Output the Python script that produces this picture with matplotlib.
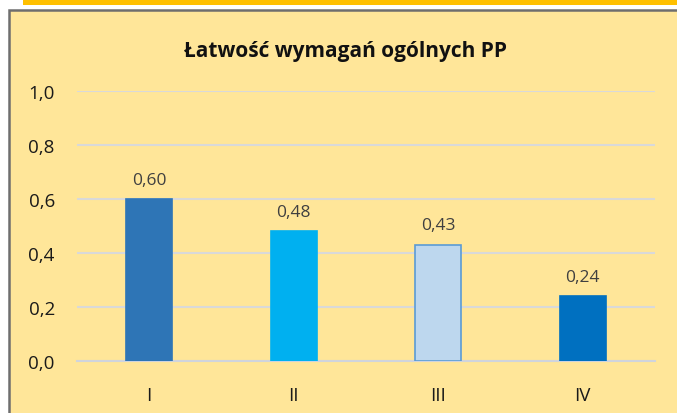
import matplotlib
matplotlib.use('Agg')
import matplotlib.pyplot as plt
from matplotlib.patches import Rectangle

categories = ['I', 'II', 'III', 'IV']
values = [0.60, 0.48, 0.43, 0.24]
value_labels = ['0,60', '0,48', '0,43', '0,24']
ytick_values = [0.0, 0.2, 0.4, 0.6, 0.8, 1.0]
ytick_labels = ['0,0', '0,2', '0,4', '0,6', '0,8', '1,0']
bar_colors = ['#2E75B6', '#00B0F0', '#BDD7EE', '#0070C0']
edge_colors = ['#2E75B6', '#00B0F0', '#5B9BD5', '#0070C0']

plt.rcParams['font.family'] = ['Open Sans', 'DejaVu Sans']

W, H = 677, 414
fig = plt.figure(figsize=(W / 100, H / 100), dpi=100, facecolor='white')

# orange band at the top and the chart box
fig.patches.append(Rectangle((23 / W, 1 - 5.5 / H), 1, 5.5 / H, transform=fig.transFigure,
                             facecolor='#FFC000', edgecolor='none', zorder=-2))
fig.patches.append(Rectangle((9 / W, -0.1), 1, 1 - 11 / H + 0.1, transform=fig.transFigure,
                             facecolor='#FFE699', edgecolor='#6E6E6E', linewidth=1.8, zorder=-2))

ax = fig.add_axes([77 / W, 52 / H, 578 / W, 270 / H])
ax.set_zorder(1)
ax.patch.set_alpha(0)

x = range(len(categories))
ax.bar(x, values, width=0.32, color=bar_colors, edgecolor=edge_colors, linewidth=1.2, zorder=3)
for xi, v, lab in zip(x, values, value_labels):
    ax.annotate(lab, (xi, v), xytext=(0, 14), textcoords='offset points',
                ha='center', va='center', fontsize=12.5, color='#404040')

ax.set_xlim(-0.5, 3.5)
ax.set_ylim(0, 1.0)
ax.set_yticks(ytick_values)
ax.set_yticklabels(ytick_labels, fontsize=13.5, color='#1A1A1A')
ax.set_xticks(list(x))
ax.set_xticklabels(categories, fontsize=13.5, color='#1A1A1A')
ax.tick_params(axis='both', length=0)
ax.tick_params(axis='y', pad=16)
ax.tick_params(axis='x', pad=18)
ax.grid(axis='y', color='#D9D9D9', linewidth=1.5, zorder=0)
for s in ['top', 'right', 'left']:
    ax.spines[s].set_visible(False)
ax.spines['bottom'].set_color('#D0D4DC')
ax.spines['bottom'].set_linewidth(1.5)

fig.text(345 / W, 1 - 52 / H, 'Łatwość wymagań ogólnych PP', ha='center', va='center',
         fontsize=15, fontweight='bold', color='#111111')

fig.savefig('out.png', dpi=100, facecolor='white')
